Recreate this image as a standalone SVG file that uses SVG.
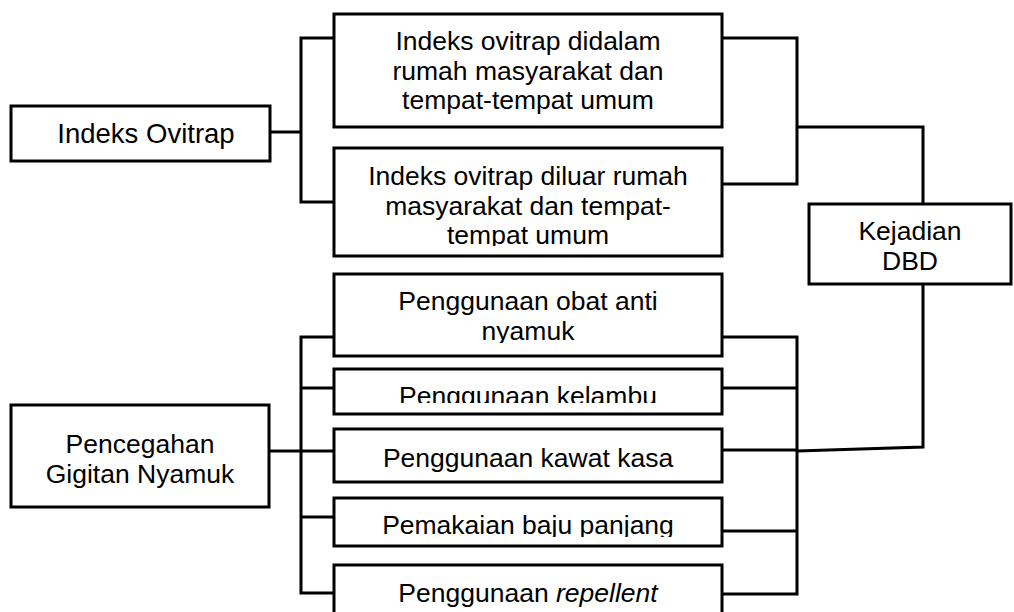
<svg xmlns="http://www.w3.org/2000/svg" width="1014" height="612" viewBox="0 0 1014 612">
<style>
.box{fill:#fff;stroke:#000;stroke-width:3}
.t{font-family:"Liberation Sans",Arial,sans-serif;font-size:26.5px;fill:#000;text-anchor:middle}
.big{font-size:27.5px}
.c{fill:none;stroke:#000;stroke-width:3;stroke-linejoin:miter}
</style>
<defs>
<clipPath id="cl2"><rect x="333" y="147" width="390" height="99"/></clipPath>
<clipPath id="clA"><rect x="333" y="273" width="390" height="70"/></clipPath>
<clipPath id="clB"><rect x="333" y="368" width="390" height="35"/></clipPath>
<clipPath id="clD"><rect x="333" y="497" width="390" height="40"/></clipPath>
</defs>
<rect width="1014" height="612" fill="#fff"/>
<g id="connectors">
<polyline class="c" points="271,132 301,132"/>
<polyline class="c" points="333,38 301,38 301,202 333,202"/>
<polyline class="c" points="722,38 797,38 797,184 722,184"/>
<polyline class="c" points="797,127 923,127 923,204"/>
<polyline class="c" points="269,451 301,451"/>
<polyline class="c" points="333,337 301,337 301,593 333,593"/>
<polyline class="c" points="301,388 333,388"/>
<polyline class="c" points="301,451 333,451"/>
<polyline class="c" points="301,517 333,517"/>
<polyline class="c" points="722,337 797,337 797,594 722,594"/>
<polyline class="c" points="722,388 797,388"/>
<polyline class="c" points="722,450 797,450"/>
<polyline class="c" points="722,531 797,531"/>
<polyline class="c" points="797,451 923,447 923,284"/>
</g>
<g id="indeks-ovitrap">
<rect class="box" x="11" y="106" width="259" height="55"/>
<text class="t big" x="146" y="143">Indeks Ovitrap</text>
</g>
<g id="ovitrap-dalam">
<rect class="box" x="334" y="14" width="388" height="113"/>
<text class="t" x="528" y="50">Indeks ovitrap didalam</text>
<text class="t" x="528" y="80">rumah masyarakat dan</text>
<text class="t" x="528" y="109">tempat-tempat umum</text>
</g>
<g id="ovitrap-luar">
<rect class="box" x="334" y="148" width="388" height="108"/>
<g clip-path="url(#cl2)">
<text class="t" x="528" y="185">Indeks ovitrap diluar rumah</text>
<text class="t" x="528" y="215">masyarakat dan tempat-</text>
<text class="t" x="528" y="244">tempat umum</text>
</g>
</g>
<g id="kejadian-dbd">
<rect class="box" x="809" y="204" width="202" height="80"/>
<text class="t" x="910" y="240">Kejadian</text>
<text class="t" x="910" y="270">DBD</text>
</g>
<g id="pencegahan">
<rect class="box" x="11" y="405" width="258" height="102"/>
<text class="t" x="140" y="453">Pencegahan</text>
<text class="t" x="140" y="483">Gigitan Nyamuk</text>
</g>
<g id="obat-anti-nyamuk">
<rect class="box" x="334" y="274" width="388" height="82"/>
<g clip-path="url(#clA)">
<text class="t" x="528" y="310">Penggunaan obat anti</text>
<text class="t" x="528" y="340">nyamuk</text>
</g>
</g>
<g id="kelambu">
<rect class="box" x="334" y="369" width="388" height="45"/>
<g clip-path="url(#clB)">
<text class="t" x="528" y="405">Penggunaan kelambu</text>
</g>
</g>
<g id="kawat-kasa">
<rect class="box" x="334" y="429" width="388" height="53"/>
<text class="t" x="528" y="467">Penggunaan kawat kasa</text>
</g>
<g id="baju-panjang">
<rect class="box" x="334" y="498" width="388" height="48"/>
<g clip-path="url(#clD)">
<text class="t" x="528" y="534">Pemakaian baju panjang</text>
</g>
</g>
<g id="repellent">
<rect class="box" x="334" y="565" width="388" height="60"/>
<text class="t" x="528" y="602">Penggunaan <tspan font-style="italic">repellent</tspan></text>
</g>
</svg>
